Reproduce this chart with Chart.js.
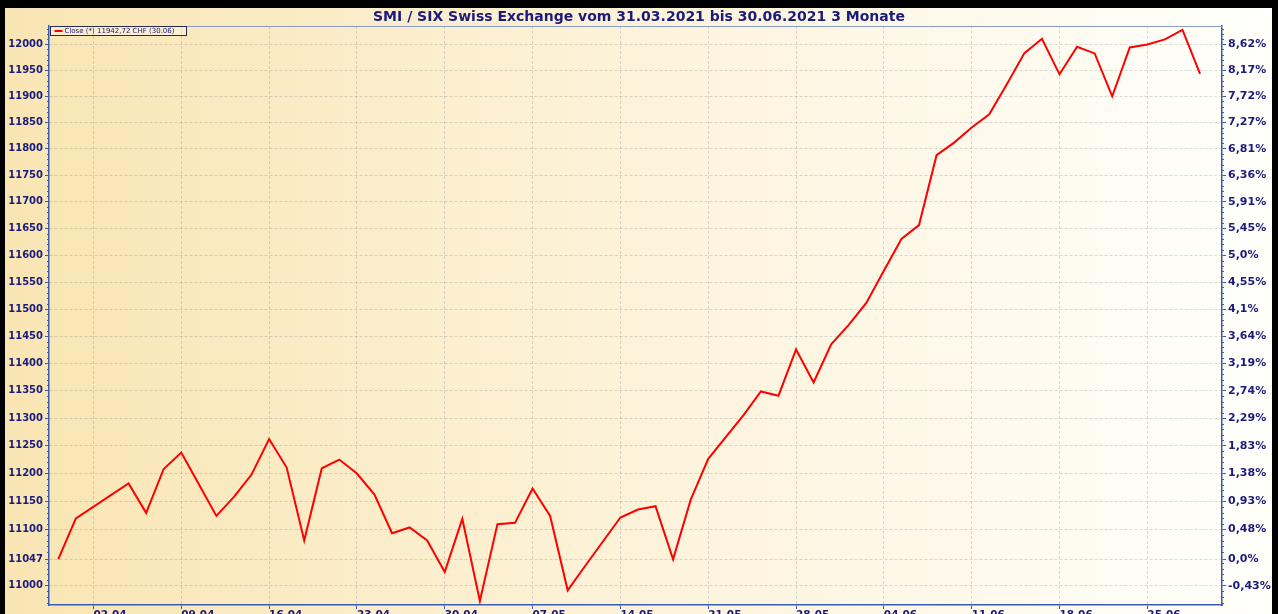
<!DOCTYPE html>
<html>
<head>
<meta charset="utf-8">
<script src="https://cdn.jsdelivr.net/npm/chart.js@4.4.0/dist/chart.umd.min.js"></script>
<style>
  html, body { margin: 0; padding: 0; background: #000; }
  #wrap { width: 1278px; height: 614px; }
</style>
</head>
<body>
<div id="wrap"><canvas id="smi" width="1278" height="614"></canvas></div>
<script>
// weekdays 31.03 - 30.06.2021 (holidays have no close)
const dates = [
  '31.03', '01.04', '02.04', '05.04', '06.04', '07.04', '08.04', '09.04',
  '12.04', '13.04', '14.04', '15.04', '16.04',
  '19.04', '20.04', '21.04', '22.04', '23.04',
  '26.04', '27.04', '28.04', '29.04', '30.04',
  '03.05', '04.05', '05.05', '06.05', '07.05',
  '10.05', '11.05', '12.05', '13.05', '14.05',
  '17.05', '18.05', '19.05', '20.05', '21.05',
  '24.05', '25.05', '26.05', '27.05', '28.05',
  '31.05', '01.06', '02.06', '03.06', '04.06',
  '07.06', '08.06', '09.06', '10.06', '11.06',
  '14.06', '15.06', '16.06', '17.06', '18.06',
  '21.06', '22.06', '23.06', '24.06', '25.06',
  '28.06', '29.06', '30.06'
];

const closes = [
  11047.3, 11119.5, null, null, 11182.1, 11129.5, 11208.3, 11237.8,
  11180.8, 11124.1, 11158.1, 11198.2, 11262.3,
  11210.8, 11080.4, 11209.6, 11225.2, 11200.0,
  11162.4, 11093.3, 11103.5, 11080.4, 11024.2,
  11118.8, 10973.0, 11109.4, 11111.7, 11173.1,
  11124.1, 10991.9, 11035.3, null, 11121.3,
  11135.6, 11141.5, 11046.7, 11152.7, 11226.6,
  null, 11305.2, 11348.8, 11341.0, 11425.5,
  11365.2, 11435.2, 11470.8, 11511.4, 11571.1,
  11630.1, 11656.2, 11787.8, 11811.6, 11840.4,
  11865.5, 11922.7, 11982.7, 12010.2, 11941.9,
  11994.8, 11982.1, 11899.8, 11993.7, 11999.4,
  12009.1, 12027.6, 11942.72
];

const xTickDates = ['02.04', '09.04', '16.04', '23.04', '30.04', '07.05', '14.05',
  '21.05', '28.05', '04.06', '11.06', '18.06', '25.06'];

const leftTicks = [11000, 11047.3, 11100, 11150, 11200, 11250, 11300, 11350, 11400, 11450,
  11500, 11550, 11600, 11650, 11700, 11750, 11800, 11850, 11900, 11950, 12000];
const leftLabels = ['11000', '11047', '11100', '11150', '11200', '11250', '11300', '11350', '11400', '11450',
  '11500', '11550', '11600', '11650', '11700', '11750', '11800', '11850', '11900', '11950', '12000'];
const rightLabels = ['-0,43%', '0,0%', '0,48%', '0,93%', '1,38%', '1,83%', '2,29%', '2,74%', '3,19%', '3,64%',
  '4,1%', '4,55%', '5,0%', '5,45%', '5,91%', '6,36%', '6,81%', '7,27%', '7,72%', '8,17%', '8,62%'];

const titleText = 'SMI / SIX Swiss Exchange vom 31.03.2021 bis 30.06.2021 3 Monate';
const legendText = 'Close (*) 11942,72 CHF (30.06)';

const navy = '#1b1b7c';
const axisBlue = '#3a5bb2';
const gridGray = 'rgba(110, 110, 110, 0.25)';
const yMin = 10966;
const yMax = 12035;

const tickIdx = xTickDates.map(d => dates.indexOf(d));

const panelPlugin = {
    id: 'panel',
    beforeDraw(chart) {
        const { ctx, width, height } = chart;
        const g = ctx.createLinearGradient(0, 0, width, 0);
        g.addColorStop(0, '#f9e5b3');
        g.addColorStop(0.5, '#fdf3da');
        g.addColorStop(1, '#fffffc');
        ctx.save();
        ctx.fillStyle = g;
        ctx.fillRect(0, 0, width, height);
        ctx.restore();
    },
    afterDraw(chart) {
        const { ctx, chartArea: a, width, height } = chart;
        const y = chart.scales.y;
        ctx.save();

        // top frame line
        ctx.strokeStyle = '#8a9cc4';
        ctx.lineWidth = 1;
        ctx.beginPath();
        ctx.moveTo(a.left, a.top + 0.5);
        ctx.lineTo(a.right, a.top + 0.5);
        ctx.stroke();

        // minor ticks on both value axes
        ctx.strokeStyle = axisBlue;
        for (let v = 10970; v <= 12030; v += 10) {
            if (v % 50 === 0) continue;
            const py = Math.round(y.getPixelForValue(v)) + 0.5;
            ctx.beginPath();
            ctx.moveTo(a.left - 2, py);
            ctx.lineTo(a.left, py);
            ctx.moveTo(a.right, py);
            ctx.lineTo(a.right + 2, py);
            ctx.stroke();
        }

        // legend box
        const lx = a.left + 1.5, ly = a.top + 0.5;
        ctx.fillStyle = 'rgba(255, 255, 255, 0.3)';
        ctx.fillRect(lx, ly, 136, 9);
        ctx.strokeStyle = '#2a2a50';
        ctx.strokeRect(lx, ly, 136, 9);
        ctx.strokeStyle = '#ff0000';
        ctx.lineWidth = 2;
        ctx.beginPath();
        ctx.moveTo(lx + 4, ly + 4.5);
        ctx.lineTo(lx + 12, ly + 4.5);
        ctx.stroke();
        ctx.fillStyle = navy;
        ctx.font = '7px "DejaVu Sans"';
        ctx.textBaseline = 'middle';
        ctx.fillText(legendText, lx + 14, ly + 5);

        // black frame of the screenshot
        ctx.fillStyle = '#000';
        ctx.fillRect(0, 0, width, 8);
        ctx.fillRect(0, 0, 5, height);
        ctx.fillRect(1272, 0, width - 1272, height);
        ctx.restore();
    }
};

new Chart(document.getElementById('smi'), {
    type: 'line',
    data: {
        datasets: [{
            label: legendText,
            data: closes.map((c, i) => ({ x: i, y: c })),
            borderColor: '#ff0000',
            borderWidth: 2,
            pointRadius: 0,
            tension: 0,
            spanGaps: true,
            yAxisID: 'y'
        }]
    },
    options: {
        responsive: false,
        animation: false,
        devicePixelRatio: 1,
        layout: { padding: 0 },
        plugins: {
            legend: { display: false },
            tooltip: { enabled: false },
            title: {
                display: true,
                text: titleText,
                color: navy,
                font: { family: 'DejaVu Sans', size: 14, weight: 'bold', lineHeight: 1.1 },
                padding: { top: 9.6, bottom: 1 }
            }
        },
        scales: {
            x: {
                type: 'linear',
                min: -0.53,
                max: 66.25,
                bounds: 'data',
                afterBuildTicks: s => { s.ticks = tickIdx.map(v => ({ value: v })); },
                afterFit: s => { s.height = 9; },
                ticks: {
                    autoSkip: false,
                    maxRotation: 0,
                    align: 'start',
                    padding: 0,
                    color: navy,
                    font: { family: 'DejaVu Sans', size: 10.5, weight: 'bold' },
                    callback: (v, i) => xTickDates[i]
                },
                grid: { color: gridGray, tickColor: axisBlue, tickLength: 4 },
                border: { color: axisBlue, width: 1.5, dash: [3, 2] }
            },
            y: {
                type: 'logarithmic',
                position: 'left',
                min: yMin,
                max: yMax,
                bounds: 'data',
                afterBuildTicks: s => { s.ticks = leftTicks.map(v => ({ value: v })); },
                afterFit: s => { s.width = 49; },
                ticks: {
                    autoSkip: false,
                    padding: 2,
                    color: navy,
                    font: { family: 'DejaVu Sans', size: 10, weight: 'bold' },
                    callback: (v, i) => leftLabels[i]
                },
                grid: { color: gridGray, tickColor: axisBlue, tickLength: 4 },
                border: { color: axisBlue, width: 1.5, dash: [3, 2] }
            },
            y2: {
                type: 'logarithmic',
                position: 'right',
                min: yMin,
                max: yMax,
                bounds: 'data',
                afterBuildTicks: s => { s.ticks = leftTicks.map(v => ({ value: v })); },
                afterFit: s => { s.width = 56; },
                ticks: {
                    autoSkip: false,
                    padding: 2,
                    color: navy,
                    font: { family: 'DejaVu Sans', size: 11, weight: 'bold' },
                    callback: (v, i) => rightLabels[i]
                },
                grid: { drawOnChartArea: false, tickColor: axisBlue, tickLength: 4 },
                border: { color: axisBlue, width: 1.5 }
            }
        }
    },
    plugins: [panelPlugin]
});
</script>
</body>
</html>
